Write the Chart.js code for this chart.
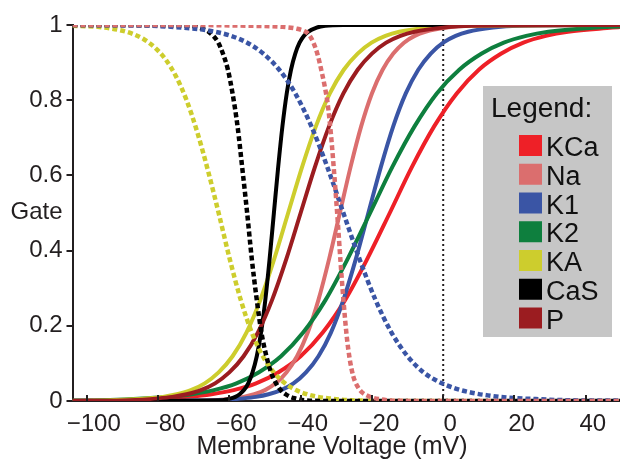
<!DOCTYPE html>
<html>
<head>
<meta charset="utf-8">
<script src="https://cdn.jsdelivr.net/npm/chart.js@4/dist/chart.umd.min.js"></script>
<style>
html,body{margin:0;padding:0;background:#fff;}
#c{display:block;}
</style>
</head>
<body>
<canvas id="c" width="620" height="461"></canvas>
<script>
// ---- tick labels ----
const xTickValues = [-100, -80, -60, -40, -20, 0, 20, 40];
const xTickLabels = ['\u2212100', '\u221280', '\u221260', '\u221240', '\u221220', '0', '20', '40'];
const yTickValues = [0, 0.2, 0.4, 0.6, 0.8, 1];
const yTickLabels = ['0', '0.2', '0.4', '0.6', '0.8', '1'];

// ---- legend ----
const seriesNames = ['KCa', 'Na', 'K1', 'K2', 'KA', 'CaS', 'P'];
const seriesColors = ['#EE2027', '#DB6E6E', '#3A55A5', '#0E7F3E', '#CDCD2D', '#000000', '#9B1C20'];

// ---- activation curves (solid) : voltage (mV) and gate value ----
const kcaV = [-104, -90, -77.5, -71.3, -65, -58.8, -52.5, -46.3, -40, -33.8, -27.5, -21.3, -15, -8.8, -2.5, 3.8, 10, 16.3, 22.5, 28.8, 35, 47.5, 50];
const kcaG = [0.001, 0.002, 0.007, 0.011, 0.018, 0.029, 0.047, 0.076, 0.119, 0.182, 0.269, 0.378, 0.5, 0.622, 0.731, 0.818, 0.881, 0.924, 0.953, 0.971, 0.982, 0.993, 0.995];

const naV = [-104, -80, -65, -59, -56, -53, -50, -47, -44, -41, -38, -35, -32, -29, -26, -23, -20, -17, -14, -11, -8, -5, 1, 7, 50];
const naG = [0, 0, 0.002, 0.007, 0.011, 0.018, 0.029, 0.047, 0.076, 0.119, 0.182, 0.269, 0.378, 0.5, 0.622, 0.731, 0.818, 0.881, 0.924, 0.953, 0.971, 0.982, 0.993, 0.998, 1];

const k1V = [-104, -77, -70, -63, -56, -52.5, -49, -45.5, -42, -38.5, -35, -31.5, -28, -24.5, -21, -17.5, -14, -10.5, -7, -3.5, 0, 3.5, 7, 14, 21, 50];
const k1G = [0, 0, 0.001, 0.002, 0.007, 0.011, 0.018, 0.029, 0.047, 0.076, 0.119, 0.182, 0.269, 0.378, 0.5, 0.622, 0.731, 0.818, 0.881, 0.924, 0.953, 0.971, 0.982, 0.993, 0.998, 1];

const k2V = [-104, -95.5, -83, -76.8, -70.5, -64.3, -58, -51.8, -45.5, -39.3, -33, -26.8, -20.5, -14.3, -8, -1.8, 4.5, 10.8, 17, 23.3, 29.5, 42, 50];
const k2G = [0.001, 0.002, 0.007, 0.011, 0.018, 0.029, 0.047, 0.076, 0.119, 0.182, 0.269, 0.378, 0.5, 0.622, 0.731, 0.818, 0.881, 0.924, 0.953, 0.971, 0.982, 0.993, 0.996];

const kaV = [-104, -95, -82.5, -78.6, -74.7, -70.8, -66.9, -63, -59.1, -55.2, -51.3, -47.4, -43.5, -39.6, -35.7, -31.8, -27.9, -24, -20.1, -16.2, -12.3, -4.5, 3.3, 50];
const kaG = [0, 0.001, 0.007, 0.011, 0.018, 0.029, 0.047, 0.076, 0.119, 0.182, 0.269, 0.378, 0.5, 0.622, 0.731, 0.818, 0.881, 0.924, 0.953, 0.971, 0.982, 0.993, 0.998, 1];

const casV = [-104, -62.5, -59.5, -58.3, -57.1, -55.9, -54.7, -53.5, -52.3, -51.1, -49.9, -48.7, -47.5, -46.3, -45.1, -43.9, -42.7, -41.5, -40.3, -39.1, -37.9, -35.5, -33.1, -28, 50];
const casG = [0, 0.002, 0.007, 0.011, 0.018, 0.029, 0.047, 0.076, 0.119, 0.182, 0.269, 0.378, 0.5, 0.622, 0.731, 0.818, 0.881, 0.924, 0.953, 0.971, 0.982, 0.993, 0.998, 1, 1];

const pV = [-104, -88, -80, -76, -72, -68, -64, -60, -56, -52, -48, -44, -40, -36, -32, -28, -24, -20, -16, -12, -8, 0, 8, 50];
const pG = [0, 0.002, 0.007, 0.011, 0.018, 0.029, 0.047, 0.076, 0.119, 0.182, 0.269, 0.378, 0.5, 0.622, 0.731, 0.818, 0.881, 0.924, 0.953, 0.971, 0.982, 0.993, 0.998, 1];

// ---- inactivation curves (dotted) ----
const nahV = [-104, -70, -55, -45, -41, -39, -37.8, -36.5, -35.2, -34.2, -33.2, -32.4, -31.5, -30.5, -29.6, -28.8, -28, -27.1, -26.2, -25.2, -24, -22.5, -20.5, -18, -14, -5, 50];
const nahG = [1, 1, 0.998, 0.995, 0.99, 0.984, 0.976, 0.955, 0.92, 0.88, 0.835, 0.79, 0.71, 0.595, 0.48, 0.37, 0.27, 0.175, 0.11, 0.065, 0.038, 0.021, 0.011, 0.005, 0.001, 0, 0];

const k1hV = [-104, -91, -82, -73, -68.5, -64, -59.5, -55, -50.5, -46, -41.5, -37, -32.5, -28, -23.5, -19, -14.5, -10, -5.5, -1, 3.5, 8, 12.5, 17, 26, 35, 50];
const k1hG = [1, 0.999, 0.998, 0.993, 0.989, 0.982, 0.971, 0.953, 0.924, 0.881, 0.818, 0.731, 0.622, 0.5, 0.378, 0.269, 0.182, 0.119, 0.076, 0.05, 0.033, 0.022, 0.015, 0.01, 0.005, 0.002, 0.001];

const cashV = [-104, -71.2, -68.5, -65.8, -64.5, -63.1, -61.8, -60.4, -59.1, -57.7, -56.4, -55, -53.7, -52.3, -51, -49.6, -48.3, -46.9, -45.6, -44.2, -42.9, -41.5, -38.8, -30, 50];
const cashG = [1, 0.998, 0.993, 0.982, 0.971, 0.953, 0.924, 0.881, 0.818, 0.731, 0.622, 0.5, 0.378, 0.269, 0.182, 0.119, 0.076, 0.047, 0.029, 0.018, 0.011, 0.007, 0.002, 0, 0];

const kahV = [-104, -97, -91, -87, -84, -81, -78, -75, -72, -69, -66, -63, -59.9, -56.8, -53.7, -50.6, -47.5, -44.4, -41.3, -38.2, -35.1, -32, -25.8, -10, 50];
const kahG = [0.998, 0.995, 0.987, 0.976, 0.962, 0.941, 0.91, 0.864, 0.8, 0.715, 0.613, 0.5, 0.378, 0.269, 0.182, 0.119, 0.076, 0.047, 0.029, 0.018, 0.011, 0.007, 0.002, 0, 0];

// ---- zero reference line ----
const zeroV = [0, 0];
const zeroG = [0, 1];

const FONT = "'Liberation Sans', Arial, Helvetica, sans-serif";
const TEXT = '#231F20';

function pts(xs, ys) { return xs.map((x, i) => ({ x: x, y: ys[i] })); }
function curve(xs, ys, color, dotted) {
  return {
    data: pts(xs, ys),
    borderColor: color,
    backgroundColor: color,
    borderWidth: dotted ? 4.5 : 4,
    borderDash: dotted ? [5, 3] : [],
    borderCapStyle: 'butt',
    pointRadius: 0,
    fill: false,
    cubicInterpolationMode: 'monotone'
  };
}

// first dataset is drawn on top
const datasets = [
  curve(nahV, nahG, seriesColors[1], true),
  curve(k1hV, k1hG, seriesColors[2], true),
  curve(cashV, cashG, seriesColors[5], true),
  curve(kahV, kahG, seriesColors[4], true),
  curve(pV, pG, seriesColors[6], false),
  curve(casV, casG, seriesColors[5], false),
  curve(kaV, kaG, seriesColors[4], false),
  curve(k2V, k2G, seriesColors[3], false),
  curve(k1V, k1G, seriesColors[2], false),
  curve(naV, naG, seriesColors[1], false),
  curve(kcaV, kcaG, seriesColors[0], false),
  {
    data: pts(zeroV, zeroG),
    borderColor: '#231F20',
    borderWidth: 2,
    borderDash: [2, 3],
    pointRadius: 0,
    fill: false,
    tension: 0
  }
];

const decorations = {
  id: 'decorations',
  afterDatasetsDraw(chart) {
    const ctx = chart.ctx;
    const xs = chart.scales.x;
    const area = chart.chartArea;
    ctx.save();
    ctx.strokeStyle = TEXT;
    ctx.lineWidth = 2;
    xTickValues.forEach(v => {
      const px = Math.round(xs.getPixelForValue(v));
      ctx.beginPath();
      ctx.moveTo(px, area.bottom);
      ctx.lineTo(px, area.bottom - 6);
      ctx.stroke();
    });
    ctx.restore();
  },
  afterDraw(chart) {
    const ctx = chart.ctx;
    ctx.save();
    ctx.fillStyle = TEXT;
    ctx.font = '24px ' + FONT;
    ctx.textAlign = 'right';
    ctx.textBaseline = 'alphabetic';
    ctx.fillText('Gate', 62.5, 219);
    ctx.font = '25px ' + FONT;
    ctx.textAlign = 'center';
    ctx.fillText('Membrane Voltage (mV)', 332, 454);
    ctx.fillStyle = '#C6C6C6';
    ctx.fillRect(483, 86, 129, 251);
    ctx.fillStyle = '#111111';
    ctx.font = '28px ' + FONT;
    ctx.textAlign = 'left';
    ctx.fillText('Legend:', 491, 117);
    ctx.font = '27px ' + FONT;
    seriesNames.forEach((name, i) => {
      const cy = 145.5 + i * 28.75;
      ctx.fillStyle = seriesColors[i];
      ctx.fillRect(519, cy - 10.5, 23, 21);
      ctx.fillStyle = '#111111';
      ctx.fillText(name, 546, cy + 10.5);
    });
    ctx.restore();
  }
};

new Chart(document.getElementById('c'), {
  type: 'line',
  data: { datasets: datasets },
  plugins: [decorations],
  options: {
    responsive: false,
    animation: false,
    devicePixelRatio: 1,
    layout: { padding: { top: 25, right: 0, left: 0, bottom: 0 } },
    plugins: { legend: { display: false }, tooltip: { enabled: false } },
    scales: {
      x: {
        type: 'linear',
        min: -104,
        max: 49.6,
        afterBuildTicks: s => { s.ticks = xTickValues.map(v => ({ value: v })); },
        afterFit: s => { s.height = 60; },
        grid: { display: false },
        border: { display: true, color: TEXT, width: 2 },
        ticks: {
          autoSkip: false,
          maxRotation: 0,
          padding: 1,
          labelOffset: 7,
          color: TEXT,
          font: { family: FONT, size: 24 },
          callback: v => xTickLabels[xTickValues.indexOf(v)]
        },
        title: { display: false }
      },
      y: {
        min: 0,
        max: 1,
        afterBuildTicks: s => { s.ticks = yTickValues.map(v => ({ value: v })); },
        afterFit: s => { s.width = 72.5; },
        grid: { display: true, drawOnChartArea: false, drawTicks: true, tickLength: 6, color: TEXT, lineWidth: 2 },
        border: { display: true, color: TEXT, width: 2 },
        ticks: {
          padding: 4,
          color: TEXT,
          font: { family: FONT, size: 24 },
          callback: v => yTickLabels[yTickValues.indexOf(v)]
        },
        title: { display: false }
      }
    }
  }
});
</script>
</body>
</html>
